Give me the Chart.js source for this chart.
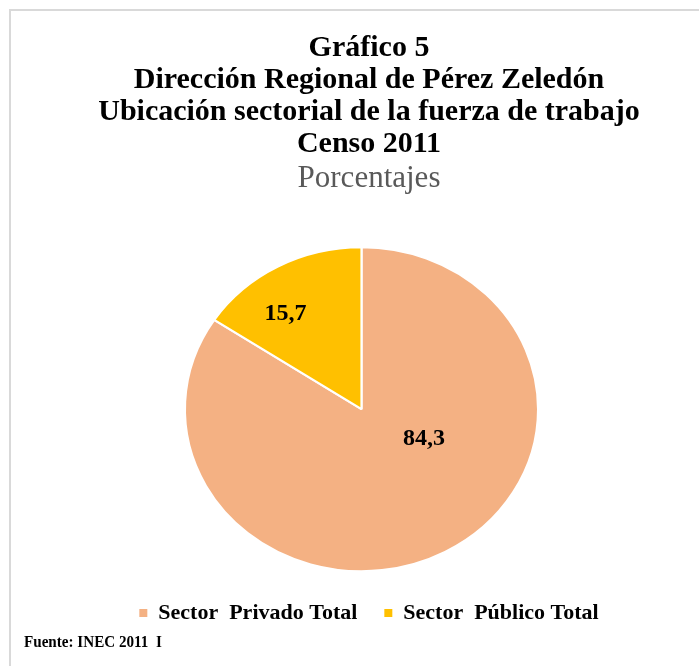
<!DOCTYPE html>
<html>
<head>
<meta charset="utf-8">
<script src="https://cdn.jsdelivr.net/npm/chart.js@4/dist/chart.umd.min.js"></script>
<style>
  html, body { margin: 0; padding: 0; background: #ffffff; overflow: hidden; width: 699px; height: 666px; }
  #frame { position: absolute; left: 9px; top: 9px; width: 2000px; height: 2000px;
           border-top: 2px solid #d9d9d9; border-left: 2px solid #d9d9d9; }
  #wrap { position: absolute; left: 0; top: 0; width: 738px; height: 666px; }
  #fuente { position: absolute; left: 24px; top: 632px; font-family: "Liberation Serif", serif;
            font-weight: bold; font-size: 17px; color: #000; transform: scaleX(0.89); transform-origin: left top;
            white-space: nowrap; }
</style>
</head>
<body>
<div id="frame"></div>
<div id="wrap"><canvas id="c" width="738" height="666"></canvas></div>
<div id="fuente">Fuente: INEC 2011&nbsp; I</div>
<script>
const titleLines = ["Gráfico 5", "Dirección Regional de Pérez Zeledón", "Ubicación sectorial de la fuerza de trabajo", "Censo 2011"];
const subtitleText = "Porcentajes";
const categories = ["Sector  Privado Total", "Sector  Público Total"];
const values = [84.3, 15.7];
const valueLabels = ["84,3", "15,7"];
const colors = ["#F4B183", "#FFC000"];

// Stretch the pie horizontally (reference pie is slightly elliptical) and shift it
const ellipsePlugin = {
  id: 'ellipse',
  beforeDatasetsDraw(chart, args, opts) {
    const meta = chart.getDatasetMeta(0);
    const a = meta.data[0];
    const ctx = chart.ctx;
    ctx.save();
    ctx.translate(a.x + opts.dx, a.y);
    ctx.scale(opts.sx, 1);
    ctx.translate(-a.x, -a.y);
  },
  afterDatasetsDraw(chart) {
    chart.ctx.restore();
  }
};

const labelPlugin = {
  id: 'valueLabels',
  afterDatasetsDraw(chart, args, opts) {
    const meta = chart.getDatasetMeta(0);
    const ctx = chart.ctx;
    const ep = chart.options.plugins.ellipse;
    ctx.save();
    ctx.font = opts.font;
    ctx.fillStyle = opts.color;
    ctx.textAlign = 'center';
    ctx.textBaseline = 'middle';
    meta.data.forEach((arc, i) => {
      const r = arc.outerRadius;
      const off = opts.offsets[i];
      const x = arc.x + ep.dx + off[0] * r * ep.sx;
      const y = arc.y + off[1] * r;
      ctx.fillText(valueLabels[i], x, y);
    });
    ctx.restore();
  }
};

new Chart(document.getElementById('c'), {
  type: 'pie',
  data: {
    labels: categories,
    datasets: [{
      data: values,
      backgroundColor: colors,
      borderColor: '#ffffff',
      borderWidth: 2
    }]
  },
  options: {
    responsive: false,
    animation: false,
    radius: 162,
    layout: { padding: { top: 0, bottom: 32, left: 0, right: 0 } },
    plugins: {
      tooltip: { enabled: false },
      ellipse: { sx: 1.09, dx: -7.5 },
      valueLabels: {
        font: 'bold 24px "Liberation Serif"',
        color: '#000000',
        offsets: [[0.354, 0.18], [-0.43, -0.591]]
      },
      title: {
        display: true,
        text: titleLines,
        color: '#000000',
        font: { family: '"Liberation Serif"', size: 30, weight: 'bold', lineHeight: 1.07 },
        padding: { top: 32, bottom: 0 }
      },
      subtitle: {
        display: true,
        text: subtitleText,
        color: '#595959',
        font: { family: '"Liberation Serif"', size: 31, weight: 'normal', lineHeight: 1.0 },
        padding: { top: 3, bottom: 49 }
      },
      legend: {
        display: true,
        position: 'bottom',
        labels: {
          color: '#000000',
          font: { family: '"Liberation Serif"', size: 22, weight: 'bold' },
          boxWidth: 8,
          boxHeight: 8,
          padding: 27,
          generateLabels(chart) {
            const ds = chart.data.datasets[0];
            return chart.data.labels.map((l, i) => ({
              text: l,
              fillStyle: ds.backgroundColor[i],
              strokeStyle: ds.backgroundColor[i],
              lineWidth: 0,
              hidden: false,
              index: i
            }));
          }
        }
      }
    }
  },
  plugins: [ellipsePlugin, labelPlugin]
});
</script>
</body>
</html>
